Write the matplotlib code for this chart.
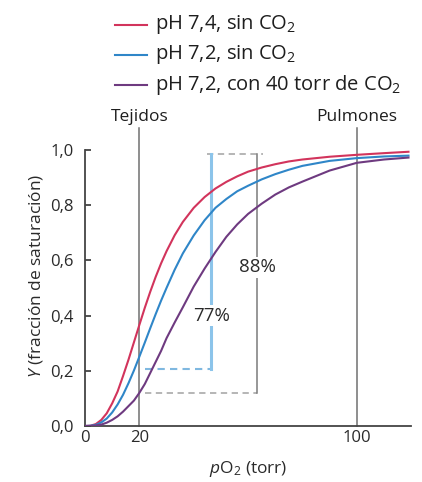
import numpy as np
import matplotlib
matplotlib.use('Agg')
import matplotlib.pyplot as plt

plt.rcParams['font.family'] = ['Open Sans', 'DejaVu Sans']
plt.rcParams['mathtext.fontset'] = 'custom'
plt.rcParams['mathtext.rm'] = 'Open Sans'
plt.rcParams['mathtext.it'] = 'Open Sans:italic'

# pO2 (torr) sample points
po2 = [0, 2, 4, 6, 8, 10, 12, 14, 16, 18, 20, 22, 24, 26, 28, 30, 33, 36, 40, 44, 48, 52, 56, 60,
       65, 70, 75, 80, 90, 100, 110, 119]
# saturation Y for each condition
y_ph74 = [0, 0.001, 0.007, 0.022, 0.046, 0.082, 0.125, 0.181, 0.240, 0.303, 0.366, 0.428, 0.486, 0.540,
          0.589, 0.633, 0.691, 0.739, 0.790, 0.829, 0.860, 0.884, 0.904, 0.921,
          0.936, 0.948, 0.958, 0.965, 0.975, 0.982, 0.988, 0.993]
y_ph72 = [0, 0.001, 0.004, 0.013, 0.027, 0.049, 0.078, 0.113, 0.155, 0.201, 0.251, 0.302, 0.354, 0.405,
          0.454, 0.500, 0.566, 0.625, 0.690, 0.745, 0.790, 0.822, 0.850, 0.870,
          0.893, 0.912, 0.928, 0.942, 0.960, 0.970, 0.976, 0.979]
y_co2 = [0, 0.000, 0.002, 0.005, 0.012, 0.022, 0.035, 0.052, 0.072, 0.092, 0.120, 0.152, 0.192, 0.232,
         0.272, 0.318, 0.375, 0.430, 0.505, 0.570, 0.630, 0.685, 0.730, 0.768,
         0.805, 0.838, 0.864, 0.885, 0.925, 0.953, 0.965, 0.972]

legend_labels = ['pH 7,4, sin CO$_2$', 'pH 7,2, sin CO$_2$', 'pH 7,2, con 40 torr de CO$_2$']
colors = ['#d2345c', '#2f86c8', '#6e3a80']

tissue_po2 = 20
lung_po2 = 100
top_y = 0.985
blue_x, blue_low = 46.5, 0.205
gray_x, gray_low = 63.3, 0.12
dash_start = 22

fig = plt.figure(figsize=(4.22, 4.82), dpi=100)
ax = fig.add_axes([0.2014, 0.1162, 0.773, 0.6245])

for yv, c in zip([y_ph74, y_ph72, y_co2], colors):
    ax.plot(po2, yv, color=c, lw=1.5, zorder=4)

# tissue / lung reference lines
for xv in [tissue_po2, lung_po2]:
    ax.plot([xv, xv], [0, 1.08], color='#707070', lw=1.1, zorder=2, clip_on=False)
ax.text(tissue_po2, 1.118, 'Tejidos', ha='center', va='center', fontsize=12.5, color='#1e1e1e')
ax.text(lung_po2, 1.118, 'Pulmones', ha='center', va='center', fontsize=12.5, color='#1e1e1e')

# differences of saturation
ax.plot([blue_x - 1.5, gray_x + 2], [top_y, top_y], color='#b0b0b0', lw=1.3, ls=(0, (3.5, 2.5)), zorder=1)
ax.plot([dash_start, blue_x], [blue_low, blue_low], color='#7fb8e0', lw=1.5, ls=(0, (3.5, 2.5)), zorder=1)
ax.plot([dash_start, gray_x], [gray_low, gray_low], color='#b0b0b0', lw=1.3, ls=(0, (3.5, 2.5)), zorder=1)
ax.plot([blue_x, blue_x], [blue_low, top_y], color='#8cc4ea', lw=2.2, zorder=3)
ax.plot([gray_x, gray_x], [gray_low, top_y], color='#7a7a7a', lw=1.1, zorder=3)
ax.text(blue_x, 0.40, '77%', ha='center', va='center', fontsize=13.5, color='#2a2a2a', zorder=5,
        bbox=dict(facecolor='white', edgecolor='none', pad=1))
ax.text(gray_x, 0.575, '88%', ha='center', va='center', fontsize=13.5, color='#2a2a2a', zorder=5,
        bbox=dict(facecolor='white', edgecolor='none', pad=1))

ax.set_xlim(0, 120)
ax.set_ylim(0, 1.09)
for s in ['top', 'right']:
    ax.spines[s].set_visible(False)
ax.spines['left'].set_bounds(0, 1.0)
for s in ['left', 'bottom']:
    ax.spines[s].set_color('#444444')
    ax.spines[s].set_linewidth(1.3)

ax.set_yticks([0, 0.2, 0.4, 0.6, 0.8, 1.0])
ax.set_yticklabels(['0,0', '0,2', '0,4', '0,6', '0,8', '1,0'])
ax.tick_params(axis='y', direction='in', length=4.5, width=1.3, color='#444444', pad=8,
               labelsize=12, labelcolor='#2a2a2a')
ax.set_xticks([0, tissue_po2, lung_po2])
ax.set_xticklabels(['0', '20', '100'])
ax.tick_params(axis='x', length=0, pad=3, labelsize=12, labelcolor='#2a2a2a')

ax.set_xlabel('$\\it{p}$O$_2$ (torr)', fontsize=12.5, color='#2a2a2a', labelpad=9)
ax.set_ylabel('$\\it{Y}$ (fracción de saturación)', fontsize=12.5, color='#2a2a2a', labelpad=4)

# legend drawn at the top of the figure
leg_y = [25, 55, 85]
for lbl, c, yp in zip(legend_labels, colors, leg_y):
    yf = 1 - yp / 482
    fig.lines.append(plt.Line2D([115 / 422, 147 / 422], [yf, yf], color=c, lw=1.5, transform=fig.transFigure))
    fig.text(155 / 422, yf, lbl, ha='left', va='center', fontsize=14.5, color='#1e1e1e')

fig.savefig('out.png', dpi=100)
